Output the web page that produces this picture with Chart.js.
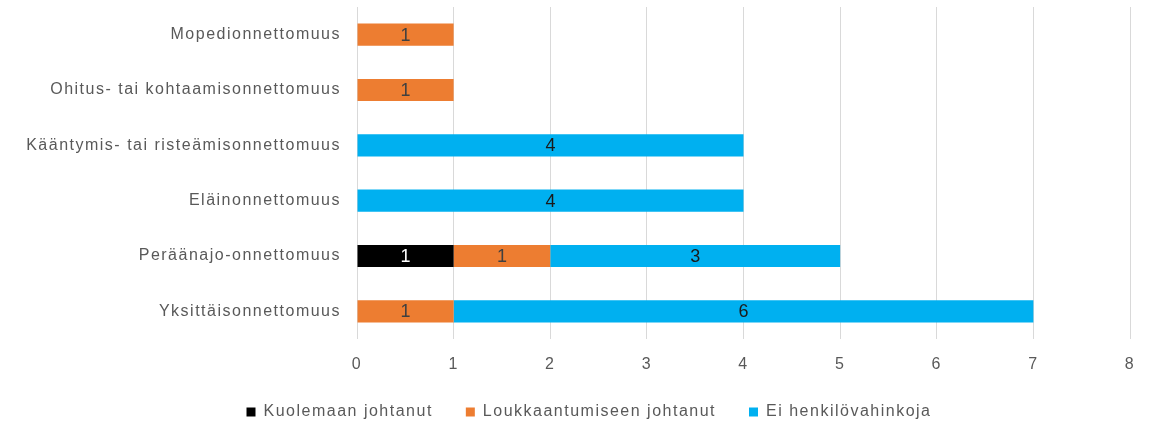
<!DOCTYPE html>
<html>
<head>
<meta charset="utf-8">
<script src="https://cdn.jsdelivr.net/npm/chart.js@4"></script>
<style>
    html, body { margin: 0; padding: 0; background: #ffffff; }
    #wrap { width: 1153px; height: 423px; }
</style>
</head>
<body>
<div id="wrap"><canvas id="chartOnnettomuudet"></canvas></div>
<script>
var kategoriat = [
    'Mopedionnettomuus',
    'Ohitus- tai kohtaamisonnettomuus',
    'Kääntymis- tai risteämisonnettomuus',
    'Eläinonnettomuus',
    'Peräänajo-onnettomuus',
    'Yksittäisonnettomuus'
];

var kuolemaan = [null, null, null, null, 1, null];
var loukkaantumiseen = [1, 1, null, null, 1, 1];
var eiVahinkoja = [null, null, 4, 4, 3, 6];

var xTicks = [0, 1, 2, 3, 4, 5, 6, 7, 8];

var fontti = '"Liberation Sans", Arial, sans-serif';
var harvennus = '1.5px'; // alkuperäisessä teksti on leveämpää

// kirjainväli tekstille (mittaus + piirto)
var kirjainvali = {
    id: 'kirjainvali',
    beforeLayout: function (chart) { chart.ctx.letterSpacing = harvennus; },
    beforeDraw: function (chart) { chart.ctx.letterSpacing = harvennus; }
};

// arvot palkkien keskelle
var arvoPlugin = {
    id: 'arvot',
    afterDatasetsDraw: function (chart) {
        var ctx = chart.ctx;
        ctx.save();
        ctx.letterSpacing = '0px';
        ctx.font = '18px ' + fontti;
        ctx.textAlign = 'center';
        ctx.textBaseline = 'middle';
        chart.data.datasets.forEach(function (ds, i) {
            var meta = chart.getDatasetMeta(i);
            meta.data.forEach(function (bar, j) {
                var v = ds.data[j];
                if (v == null) return;
                ctx.fillStyle = ds.labelColor;
                ctx.fillText(String(v), (bar.x + bar.base) / 2, bar.y + 1);
            });
        });
        ctx.restore();
    }
};

var ctxOnn = document.getElementById('chartOnnettomuudet');

new Chart(ctxOnn, {
    type: 'bar',
    data: {
        labels: kategoriat,
        datasets: [
            {
                label: 'Kuolemaan johtanut',
                data: kuolemaan,
                backgroundColor: '#000000',
                labelColor: '#ffffff'
            },
            {
                label: 'Loukkaantumiseen johtanut',
                data: loukkaantumiseen,
                backgroundColor: '#ED7D31',
                labelColor: '#404040'
            },
            {
                label: 'Ei henkilövahinkoja',
                data: eiVahinkoja,
                backgroundColor: '#00B0F0',
                labelColor: '#1a1a1a'
            }
        ]
    },
    options: {
        indexAxis: 'y',
        responsive: true,
        maintainAspectRatio: false,
        animation: false,
        datasets: {
            bar: {
                categoryPercentage: 1,
                barPercentage: 0.4
            }
        },
        layout: {
            padding: { top: 7, right: 0, left: 25, bottom: -7 }
        },
        plugins: {
            tooltip: { enabled: false },
            legend: {
                position: 'bottom',
                labels: {
                    boxWidth: 9,
                    boxHeight: 9,
                    padding: 33,
                    color: '#595959',
                    font: { family: fontti, size: 16 }
                }
            }
        },
        scales: {
            x: {
                stacked: true,
                min: 0,
                max: 8,
                afterBuildTicks: function (axis) {
                    axis.ticks = xTicks.map(function (v) { return { value: v }; });
                },
                afterFit: function (axis) {
                    axis.height = 32;
                    axis.paddingLeft = 0;
                    axis.paddingRight = 23;
                },
                grid: {
                    color: '#d9d9d9',
                    drawTicks: false
                },
                border: { display: false },
                ticks: {
                    padding: 16,
                    color: '#595959',
                    font: { family: fontti, size: 16 }
                }
            },
            y: {
                stacked: true,
                afterFit: function (axis) {
                    axis.width = 332;
                    axis.paddingTop = 0;
                    axis.paddingBottom = 0;
                },
                grid: { display: false, drawTicks: false },
                border: { display: false },
                ticks: {
                    padding: 16,
                    color: '#595959',
                    font: { family: fontti, size: 16 }
                }
            }
        }
    },
    plugins: [kirjainvali, arvoPlugin]
});
</script>
</body>
</html>
